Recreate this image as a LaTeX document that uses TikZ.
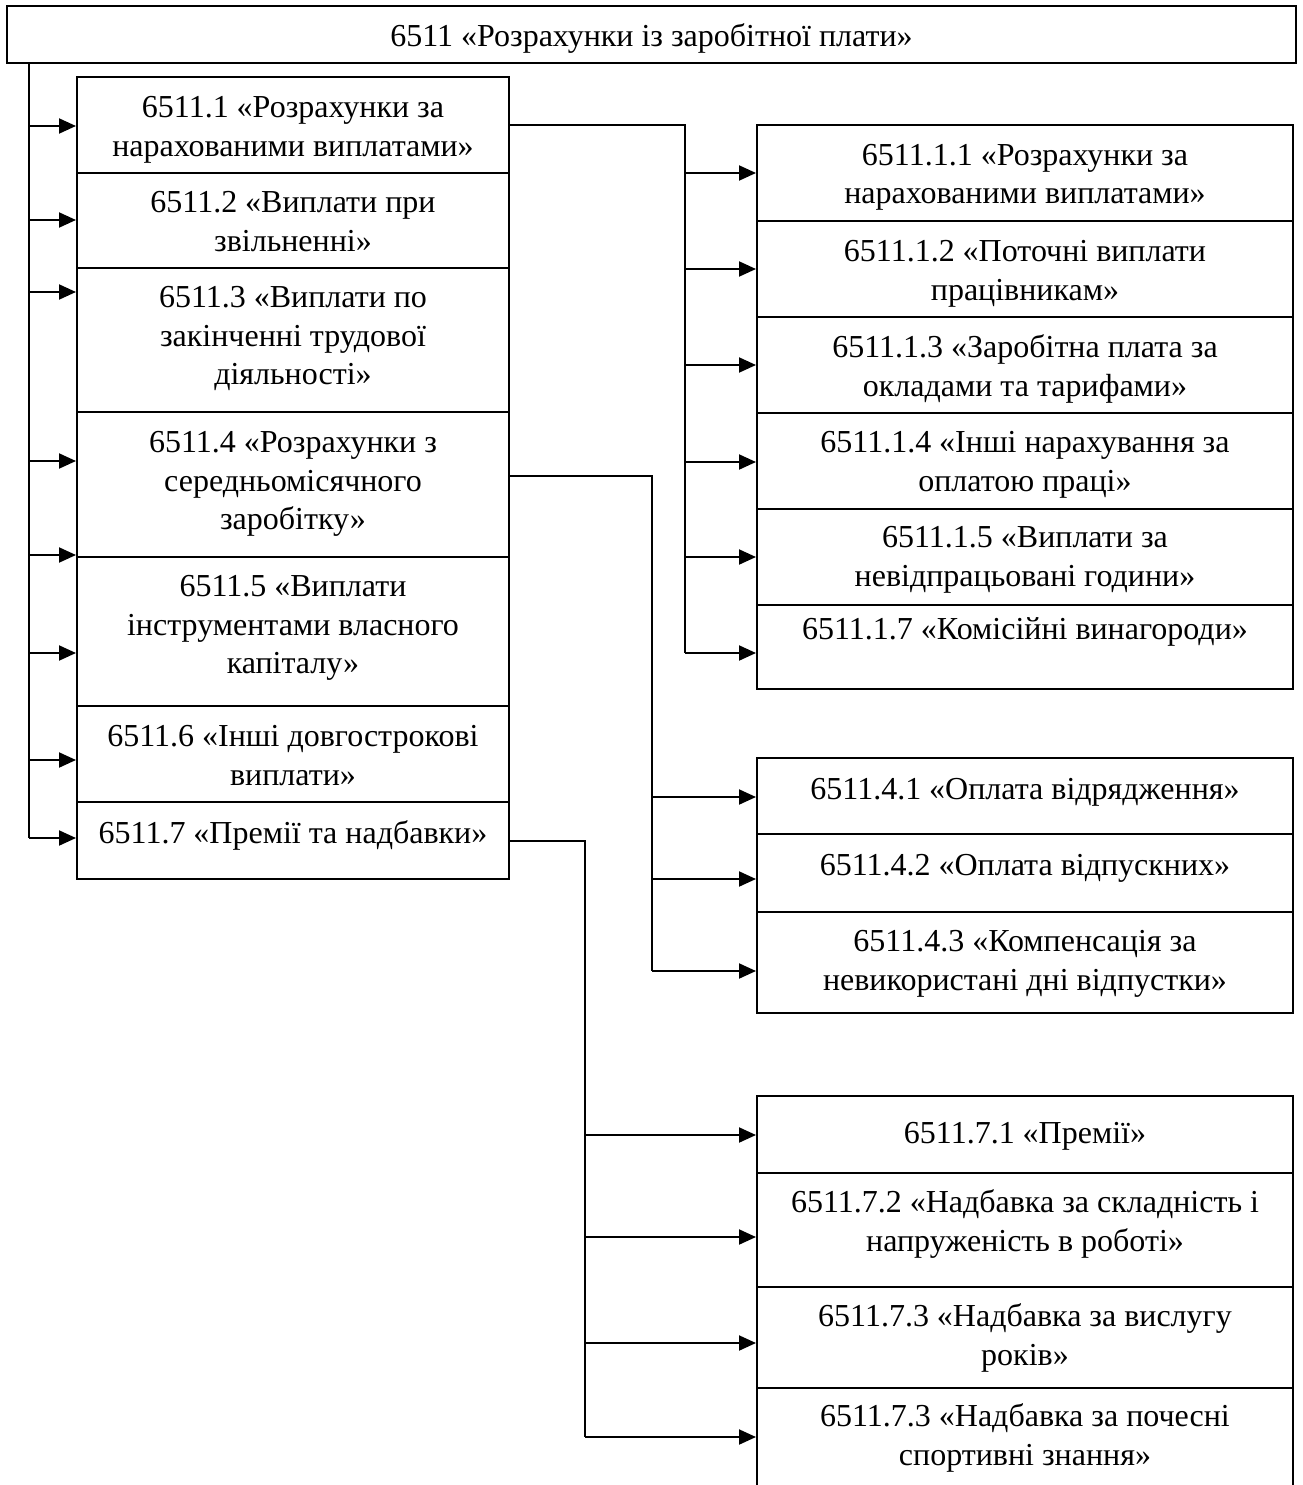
\documentclass[tikz,border=0pt]{standalone}
\usepackage{fontspec}
\setmainfont{Liberation Serif}
\usetikzlibrary{arrows.meta}
\newcommand\boxfont{\fontsize{32pt}{38.5pt}\selectfont}
% #1 first-line height, #2 last-line depth, #3 text
\newcommand\tx[3]{\rule{0pt}{#1pt}#3\rule[-#2pt]{0pt}{#2pt}}
\begin{document}
\begin{tikzpicture}[x=1pt,y=-1pt,
  box/.style={draw, line width=2pt, inner sep=0pt, align=center, font=\boxfont},
  lbox/.style={box, minimum width=432pt},
  rbox/.style={box, minimum width=536pt},
  ln/.style={line width=2pt},
  arr/.style={line width=2pt, -{Triangle[length=17pt,width=15pt]}}]
\useasboundingbox (0,0) rectangle (1302,1485);
% top
\node[box, minimum width=1289pt, minimum height=57pt] (top) at (651.5,34.5) {\tx{35}{10}{6511 «Розрахунки із заробітної плати»}};
% left column
\node[lbox, minimum height=96pt]  (b1) at (293,125)   {\tx{34}{10}{6511.1 «Розрахунки за\\нарахованими виплатами»}};
\node[lbox, minimum height=95pt]  (b2) at (293,220.5) {\tx{33}{10}{6511.2 «Виплати при\\звільненні»}};
\node[lbox, minimum height=144pt] (b3) at (293,340)   {\tx{28}{16}{6511.3 «Виплати по\\закінченні трудової\\діяльності»}};
\node[lbox, minimum height=145pt] (b4) at (293,484.5) {\tx{28}{15}{6511.4 «Розрахунки з\\середньомісячного\\заробітку»}};
\node[lbox, minimum height=149pt] (b5) at (293,631.5) {\tx{28}{21}{6511.5 «Виплати\\інструментами власного\\капіталу»}};
\node[lbox, minimum height=96pt]  (b6) at (293,754)   {\tx{34}{10}{6511.6 «Інші довгострокові\\виплати»}};
\node[lbox, minimum height=77pt]  (b7) at (293,840.5) {\tx{28}{23}{6511.7 «Премії та надбавки»}};
% right group 1
\node[rbox, minimum height=96pt] (r11) at (1025,173) {\tx{33}{10}{6511.1.1 «Розрахунки за\\нарахованими виплатами»}};
\node[rbox, minimum height=96pt] (r12) at (1025,269) {\tx{34}{10}{6511.1.2 «Поточні виплати\\працівникам»}};
\node[rbox, minimum height=96pt] (r13) at (1025,365) {\tx{34}{10}{6511.1.3 «Заробітна плата за\\окладами та тарифами»}};
\node[rbox, minimum height=96pt] (r14) at (1025,461) {\tx{32}{10}{6511.1.4 «Інші нарахування за\\оплатою праці»}};
\node[rbox, minimum height=96pt] (r15) at (1025,557) {\tx{30}{10}{6511.1.5 «Виплати за\\невідпрацьовані години»}};
\node[rbox, minimum height=84pt] (r17) at (1025,647) {\tx{28}{44}{6511.1.7 «Комісійні винагороди»}};
% right group 2
\node[rbox, minimum height=76pt]  (r41) at (1025,796)   {\tx{28}{22}{6511.4.1 «Оплата відрядження»}};
\node[rbox, minimum height=78pt]  (r42) at (1025,873)   {\tx{28}{24}{6511.4.2 «Оплата відпускних»}};
\node[rbox, minimum height=101pt] (r43) at (1025,962.5) {\tx{28}{11}{6511.4.3 «Компенсація за\\невикористані дні відпустки»}};
% right group 3
\node[rbox, minimum height=77pt]  (r71) at (1025,1134.5) {\tx{28}{11}{6511.7.1 «Премії»}};
\node[rbox, minimum height=114pt] (r72) at (1025,1230)   {\tx{28}{24}{6511.7.2 «Надбавка за складність і\\напруженість в роботі»}};
\node[rbox, minimum height=101pt] (r73) at (1025,1337.5) {\tx{28}{11}{6511.7.3 «Надбавка за вислугу\\років»}};
\node[rbox, minimum height=100pt] (r74) at (1025,1438)   {\tx{28}{12}{6511.7.3 «Надбавка за почесні\\спортивні знання»}};
% left trunk
\coordinate (t1) at (29,126);
\coordinate (t2) at (29,220);
\coordinate (t3) at (29,292);
\coordinate (t4) at (29,461);
\coordinate (t5) at (29,555);
\coordinate (t6) at (29,653);
\coordinate (t7) at (29,760);
\coordinate (t8) at (29,838);
\draw[ln] (top.south -| t1) -- (t8);
\draw[arr] (t1) -- (t1 -| b1.west);
\draw[arr] (t2) -- (t2 -| b2.west);
\draw[arr] (t3) -- (t3 -| b3.west);
\draw[arr] (t4) -- (t4 -| b4.west);
\draw[arr] (t5) -- (t5 -| b5.west);
\draw[arr] (t6) -- (t6 -| b5.west);
\draw[arr] (t7) -- (t7 -| b6.west);
\draw[arr] (t8) -- (t8 -| b7.west);
% connector 6511.1
\coordinate (u0) at (685,125);
\coordinate (u1) at (685,173);
\coordinate (u2) at (685,269);
\coordinate (u3) at (685,365);
\coordinate (u4) at (685,462);
\coordinate (u5) at (685,557);
\coordinate (u6) at (685,653);
\draw[ln] (u0 -| b1.east) -- (u0) -- (u6);
\draw[arr] (u1) -- (u1 -| r11.west);
\draw[arr] (u2) -- (u2 -| r12.west);
\draw[arr] (u3) -- (u3 -| r13.west);
\draw[arr] (u4) -- (u4 -| r14.west);
\draw[arr] (u5) -- (u5 -| r15.west);
\draw[arr] (u6) -- (u6 -| r17.west);
% connector 6511.4
\coordinate (v0) at (652,476);
\coordinate (v1) at (652,797);
\coordinate (v2) at (652,879);
\coordinate (v3) at (652,971);
\draw[ln] (v0 -| b4.east) -- (v0) -- (v3);
\draw[arr] (v1) -- (v1 -| r41.west);
\draw[arr] (v2) -- (v2 -| r42.west);
\draw[arr] (v3) -- (v3 -| r43.west);
% connector 6511.7
\coordinate (w0) at (585,841);
\coordinate (w1) at (585,1135);
\coordinate (w2) at (585,1237);
\coordinate (w3) at (585,1343);
\coordinate (w4) at (585,1437);
\draw[ln] (w0 -| b7.east) -- (w0) -- (w4);
\draw[arr] (w1) -- (w1 -| r71.west);
\draw[arr] (w2) -- (w2 -| r72.west);
\draw[arr] (w3) -- (w3 -| r73.west);
\draw[arr] (w4) -- (w4 -| r74.west);
\end{tikzpicture}
\end{document}
